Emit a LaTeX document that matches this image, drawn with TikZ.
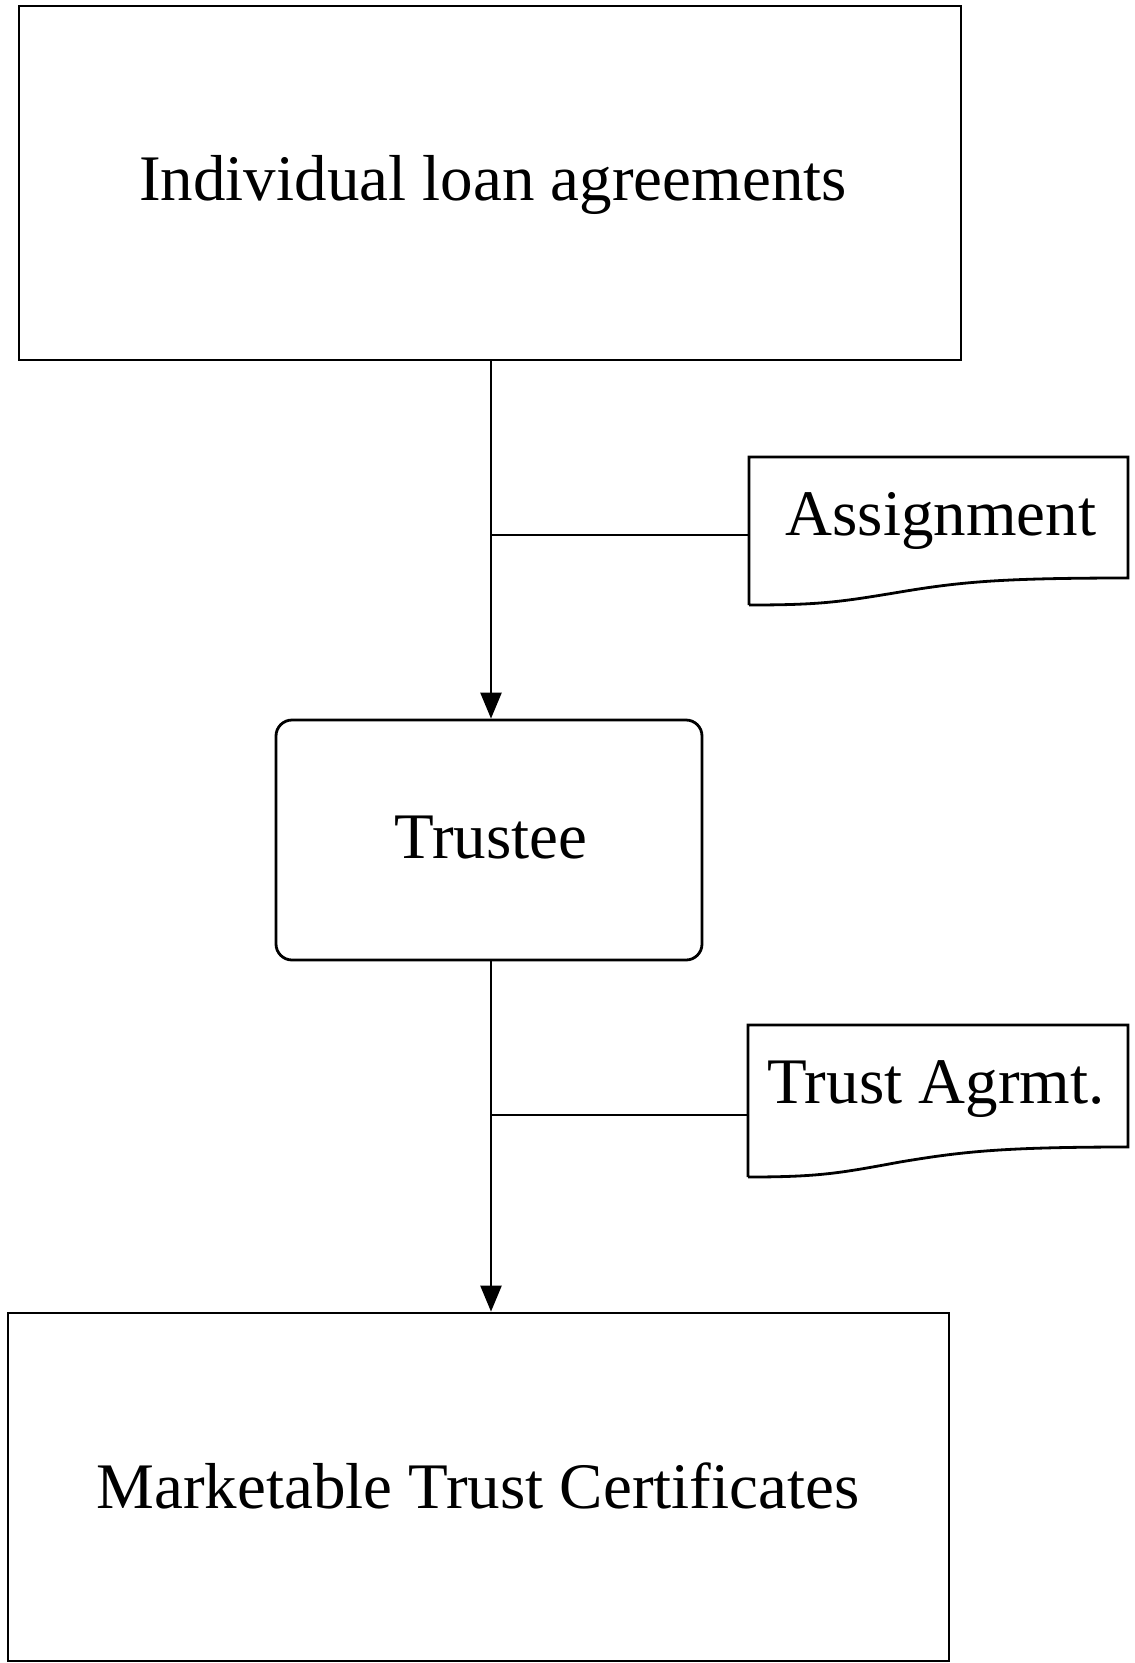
\documentclass[tikz,border=0pt]{standalone}
\usepackage{fontspec}
\setmainfont{Liberation Serif}
\usetikzlibrary{arrows.meta}
\begin{document}
\begin{tikzpicture}[x=1pt,y=-1pt,
  lbl/.style={font=\fontsize{65}{72}\selectfont, inner sep=0pt},
  boxstyle/.style={draw, line width=2.8pt},
  conn/.style={draw, line width=2.5pt},
  arr/.style={conn, -{Triangle[length=26pt,width=21pt]}}]
\useasboundingbox (0,0) rectangle (1135,1663);
% top box
\node[boxstyle, minimum width=942pt, minimum height=354pt, inner sep=0pt] (top) at (490,183) {};
\node[lbl] (toptxt) at (493,185) {Individual loan agreements};
% trustee
\node[boxstyle, rounded corners=16pt, minimum width=426pt, minimum height=240pt, inner sep=0pt] (trustee) at (489,840) {};
\node[lbl] at (491,838) {Trustee};
% bottom box
\node[boxstyle, minimum width=941pt, minimum height=348pt, inner sep=0pt] (bottom) at (478.5,1487) {};
\node[lbl] at (478,1486) {Marketable Trust Certificates};
% arrows
\draw[arr] (top.south -| 491,0) -- (trustee.north -| 491,0);
\draw[arr] (trustee.south -| 491,0) -- (bottom.north -| 491,0);
% assignment document
\draw[boxstyle] (749,605) -- (749,457) -- (1128,457) -- (1128,578)
  .. controls (1000,578) and (960,582) .. (900,592)
  .. controls (840,602) and (820,605) .. (749,605);
\coordinate (asgL) at (749,535);
\node[lbl] (asg) at (941,521) {Assignment};
\coordinate (b1) at (491,535);
\draw[conn] (b1) -- (asgL);
% trust agreement document
\draw[boxstyle] (748,1177) -- (748,1025) -- (1128,1025) -- (1128,1147)
  .. controls (1000,1147) and (960,1152) .. (900,1162)
  .. controls (840,1173) and (820,1177) .. (748,1177);
\coordinate (taL) at (748,1115);
\node[lbl] (ta) at (936,1089) {Trust Agrmt.};
\coordinate (b2) at (491,1115);
\draw[conn] (b2) -- (taL);
\end{tikzpicture}
\end{document}
